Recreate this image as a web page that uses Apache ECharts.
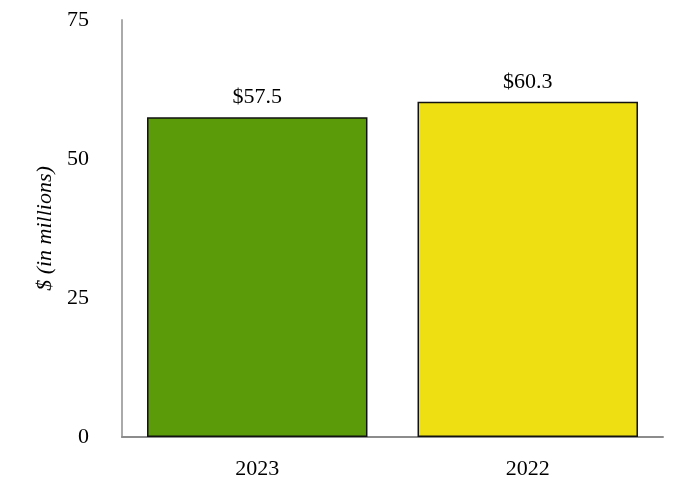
<!DOCTYPE html>
<html>
<head>
<meta charset="utf-8">
<script src="https://cdn.jsdelivr.net/npm/echarts@6/dist/echarts.min.js"></script>
<style>
  html, body { margin: 0; padding: 0; background: #fff; }
  #chart { width: 682px; height: 500px; }
</style>
</head>
<body>
<div id="chart"></div>
<script>
// values
var years = ['2023', '2022'];
var amounts = [57.5, 60.3];
var barColors = ['#5b9a08', '#eedf13'];

var chart = echarts.init(document.getElementById('chart'));
var font = 'Liberation Serif, Times New Roman, serif';

var option = {
    animation: false,
    grid: { left: 122, right: 19, top: 20, bottom: 63 },
    xAxis: {
        type: 'category',
        data: years,
        axisLine: { lineStyle: { color: '#8c8c8c', width: 2 } },
        axisTick: { show: false },
        axisLabel: { color: '#000', fontFamily: font, fontSize: 22, margin: 21 }
    },
    yAxis: {
        type: 'value',
        min: 0,
        max: 75,
        interval: 25,
        name: '$ (in millions)',
        nameLocation: 'middle',
        nameGap: 66,
        nameTextStyle: { color: '#000', fontFamily: font, fontSize: 22, fontStyle: 'italic' },
        axisLine: { show: true, lineStyle: { color: '#aaaaaa', width: 2 } },
        axisTick: { show: false },
        splitLine: { show: false },
        axisLabel: { color: '#000', fontFamily: font, fontSize: 22, margin: 33 }
    },
    series: [{
        type: 'bar',
        barWidth: '81.5%',
        data: amounts.map(function (v, i) {
            return { value: v, itemStyle: { color: barColors[i] } };
        }),
        itemStyle: { borderColor: '#111', borderWidth: 1.5 },
        label: {
            show: true,
            position: 'top',
            distance: 9,
            color: '#000',
            fontFamily: font,
            fontSize: 22,
            formatter: function (p) { return '$' + p.value.toFixed(1); }
        }
    }]
};

chart.setOption(option);
</script>
</body>
</html>
